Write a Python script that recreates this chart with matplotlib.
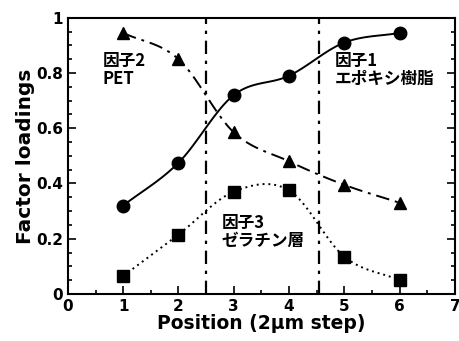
import numpy as np
import matplotlib.pyplot as plt
from matplotlib.ticker import MultipleLocator

plt.rcParams['font.family'] = ['DejaVu Sans', 'Noto Sans CJK JP']
plt.rcParams['font.weight'] = 'bold'

position = np.array([1, 2, 3, 4, 5, 6])
factor1 = np.array([0.32, 0.475, 0.72, 0.79, 0.91, 0.945])
factor2 = np.array([0.945, 0.85, 0.585, 0.48, 0.395, 0.33])
factor3 = np.array([0.065, 0.215, 0.37, 0.375, 0.135, 0.05])
boundaries = [2.5, 4.55]


def smooth(x, y, n=20):
    # Catmull-Rom curve through the points
    px = np.concatenate([[2 * x[0] - x[1]], x, [2 * x[-1] - x[-2]]])
    py = np.concatenate([[2 * y[0] - y[1]], y, [2 * y[-1] - y[-2]]])
    xs, ys = [], []
    t = np.linspace(0, 1, n)
    for i in range(1, len(px) - 2):
        for p, out in ((px, xs), (py, ys)):
            p0, p1, p2, p3 = p[i - 1:i + 3]
            out.extend(0.5 * (2 * p1 + (-p0 + p2) * t
                              + (2 * p0 - 5 * p1 + 4 * p2 - p3) * t ** 2
                              + (-p0 + 3 * p1 - 3 * p2 + p3) * t ** 3))
    return np.array(xs), np.array(ys)


fig = plt.figure(figsize=(4.59, 3.41), dpi=100)
ax = fig.add_axes([0.148, 0.138, 0.843, 0.81])

sx, sy = smooth(position, factor1)
ax.plot(sx, sy, 'k-', lw=1.4)
ax.plot(position, factor1, 'ko', ms=9)

sx, sy = smooth(position, factor2)
ax.plot(sx, sy, 'k', lw=1.4, dashes=(7, 3, 1.5, 3))
ax.plot(position, factor2, 'k^', ms=8)

sx, sy = smooth(position, factor3)
ax.plot(sx, sy, 'k', lw=1.4, ls=(0, (1, 2)))
ax.plot(position, factor3, 'ks', ms=9)

for b in boundaries:
    ax.axvline(b, color='k', lw=1.6, dashes=(6, 3, 1.5, 3))

cjk = ['Noto Sans CJK JP', 'DejaVu Sans']
ax.text(0.63, 0.875, '因子2\nPET', fontsize=12, fontweight='bold',
        family=cjk, va='top', ha='left', linespacing=1.0)
ax.text(4.83, 0.875, '因子1\nエポキシ樹脂', fontsize=12, fontweight='bold',
        family=cjk, va='top', ha='left', linespacing=1.0)
ax.text(2.78, 0.29, '因子3\nゼラチン層', fontsize=12, fontweight='bold',
        family=cjk, va='top', ha='left', linespacing=1.0)

ax.set_xlim(0, 7)
ax.set_ylim(0, 1)
ax.xaxis.set_major_locator(MultipleLocator(1))
ax.xaxis.set_minor_locator(MultipleLocator(0.5))
ax.yaxis.set_minor_locator(MultipleLocator(0.05))
ax.set_yticks([0, 0.2, 0.4, 0.6, 0.8, 1])
ax.set_yticklabels(['0', '0.2', '0.4', '0.6', '0.8', '1'])
ax.tick_params(which='both', direction='in', right=True, top=False,
               labelsize=11, width=1.2)
ax.tick_params(which='major', length=6)
ax.tick_params(which='minor', length=3)
for s in ax.spines.values():
    s.set_linewidth(1.5)

ax.set_xlabel('Position (2μm step)', fontsize=13.5, fontweight='bold', labelpad=0)
ax.set_ylabel('Factor loadings', fontsize=14.5, fontweight='bold', labelpad=1)

fig.savefig('out.png', dpi=100)
